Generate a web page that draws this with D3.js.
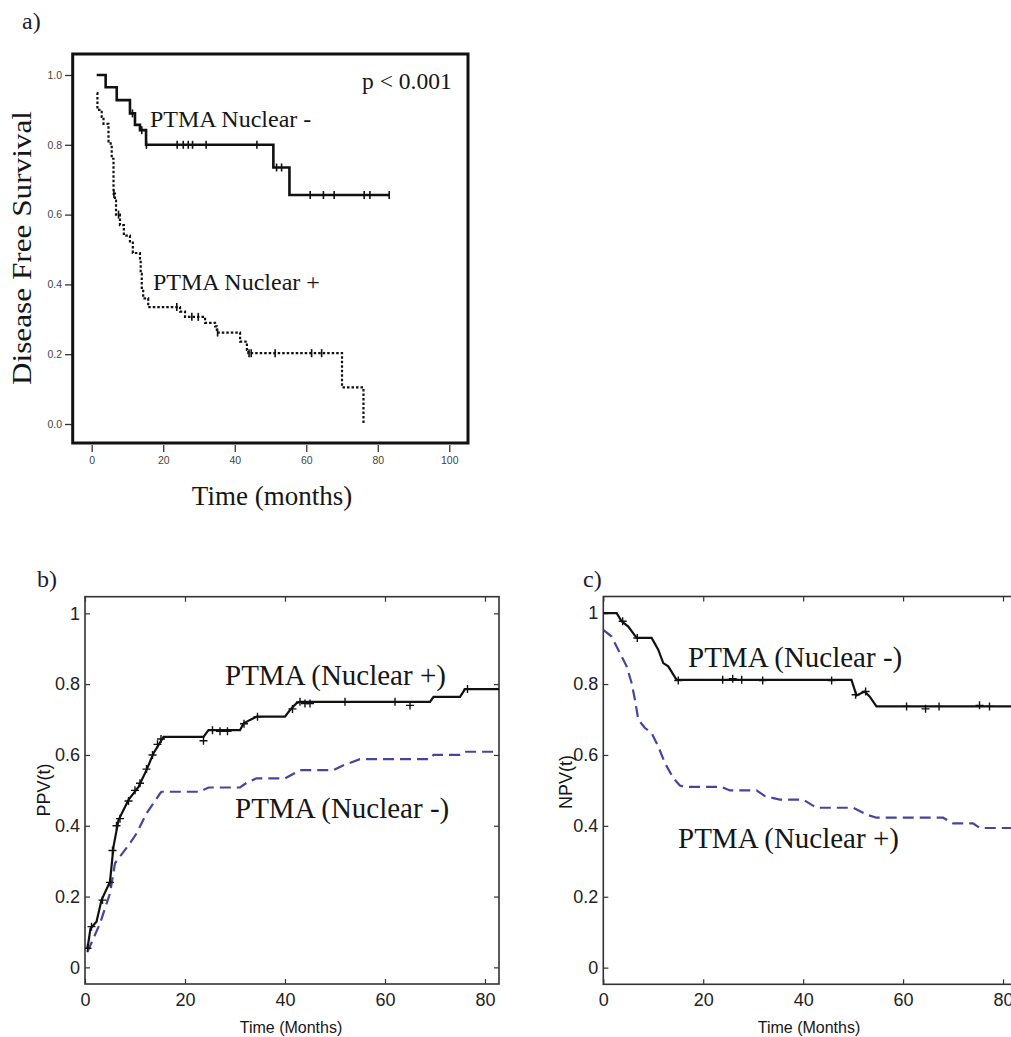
<!DOCTYPE html>
<html><head><meta charset="utf-8">
<script src="https://cdn.jsdelivr.net/npm/d3@7"></script>
<style>body{margin:0;background:#fff}</style>
</head><body>
<svg id="chart" width="1011" height="1037" xmlns="http://www.w3.org/2000/svg"></svg>
<script>
// ---------- Panel a: Kaplan-Meier, disease free survival ----------
const aXTicks = [0, 20, 40, 60, 80, 100];
const aYTicks = [0, 0.2, 0.4, 0.6, 0.8, 1.0];
// PTMA Nuclear - (solid)
const aNegTime = [1.4, 3.9, 7.0, 10.7, 12.1, 13.5, 15.2, 50.8, 55.3, 83.4];
const aNegSurv = [1.0, 0.965, 0.928, 0.890, 0.857, 0.842, 0.80, 0.735, 0.656, 0.656];
const aNegCensor = [11.4, 14.0, 15.3, 23.9, 25.6, 27.0, 28.2, 32.0, 46.2, 51.7, 53.1, 61.1, 64.8, 67.8, 76.2, 77.8, 83.2];
// PTMA Nuclear + (dotted)
const aPosTime = [1.4, 1.6, 2.8, 3.3, 4.7, 5.3, 5.6, 6.1, 6.5, 6.8, 7.9, 9.0, 10.7, 11.5, 13.5, 13.7, 14.0, 14.4, 15.8, 24.7, 26.1, 31.7, 34.5, 35.0, 41.5, 43.4, 43.8, 70.0, 76.0];
const aPosSurv = [0.948, 0.90, 0.88, 0.86, 0.81, 0.80, 0.76, 0.66, 0.64, 0.60, 0.57, 0.54, 0.52, 0.49, 0.47, 0.43, 0.39, 0.36, 0.335, 0.322, 0.307, 0.29, 0.28, 0.262, 0.236, 0.212, 0.203, 0.105, 0.0];
const aPosCensor = [6.2, 7.5, 23.8, 28.0, 29.8, 35.2, 44.0, 44.6, 51.3, 61.5, 64.3];

// ---------- Panel b: PPV(t) ----------
const bcXTicks = [0, 20, 40, 60, 80];
const bcYTicks = [0, 0.2, 0.4, 0.6, 0.8, 1];
const bPosTime = [0.5, 1.1, 2.3, 3.3, 5.0, 5.7, 6.7, 8.7, 10.7, 12.3, 13.7, 15.7, 23.7, 24.7, 31.0, 31.7, 33.0, 34.3, 40.0, 41.0, 42.3, 43.0, 69.0, 69.7, 75.0, 76.0, 83.0];
const bPosVal  = [0.054, 0.110, 0.129, 0.19, 0.242, 0.341, 0.416, 0.473, 0.510, 0.557, 0.605, 0.651, 0.651, 0.670, 0.670, 0.689, 0.699, 0.708, 0.708, 0.727, 0.746, 0.750, 0.750, 0.764, 0.764, 0.786, 0.786];
const bPosMarkT = [0.5, 1.3, 3.5, 5.0, 5.5, 6.3, 7.0, 8.7, 10.0, 11.0, 12.3, 13.5, 14.5, 15.2, 23.7, 25.5, 27.0, 28.5, 31.8, 34.5, 41.5, 43.0, 44.0, 45.0, 52.0, 62.0, 65.0, 76.5];
const bPosMarkV = [0.054, 0.115, 0.19, 0.24, 0.33, 0.40, 0.42, 0.47, 0.50, 0.52, 0.56, 0.60, 0.63, 0.645, 0.64, 0.67, 0.667, 0.667, 0.688, 0.708, 0.73, 0.75, 0.745, 0.745, 0.75, 0.75, 0.74, 0.786];
const bNegTime = [0.5, 3.0, 5.0, 6.0, 8.7, 10.3, 12.3, 15.0, 15.3, 23.0, 24.7, 31.0, 32.3, 34.3, 40.0, 43.0, 49.7, 51.7, 55.0, 69.0, 69.7, 75.0, 76.0, 83.0];
const bNegVal  = [0.044, 0.124, 0.209, 0.294, 0.345, 0.378, 0.435, 0.491, 0.496, 0.496, 0.508, 0.508, 0.521, 0.534, 0.534, 0.557, 0.557, 0.571, 0.588, 0.588, 0.600, 0.600, 0.609, 0.609];

// ---------- Panel c: NPV(t) ----------
const cNegTime = [0, 2.67, 3.67, 5.0, 6.67, 9.67, 11.0, 12.0, 13.0, 14.67, 49.67, 50.67, 52.3, 53.3, 54.67, 83.0];
const cNegVal  = [1.0, 1.0, 0.977, 0.962, 0.930, 0.930, 0.897, 0.859, 0.850, 0.812, 0.812, 0.768, 0.779, 0.765, 0.737, 0.737];
const cNegMarkT = [3.87, 6.8, 15.0, 23.9, 25.9, 27.7, 31.9, 45.7, 50.5, 52.5, 60.7, 64.5, 67.2, 75.3, 77.3];
const cNegMarkV = [0.977, 0.93, 0.81, 0.812, 0.815, 0.812, 0.81, 0.81, 0.77, 0.779, 0.737, 0.73, 0.737, 0.74, 0.737];
const cPosTime = [0, 1.67, 3.33, 4.67, 5.67, 6.33, 7.0, 8.33, 9.67, 11.0, 12.33, 14.0, 15.33, 16.33, 23.67, 25.33, 30.67, 32.33, 35.33, 40.0, 42.67, 50.0, 52.67, 54.67, 68.0, 70.0, 74.0, 75.33, 83.0];
const cPosVal  = [0.953, 0.934, 0.887, 0.850, 0.803, 0.756, 0.70, 0.676, 0.662, 0.624, 0.577, 0.535, 0.514, 0.510, 0.510, 0.50, 0.50, 0.484, 0.474, 0.474, 0.451, 0.451, 0.432, 0.423, 0.423, 0.407, 0.407, 0.394, 0.394];

const SERIF = "'Liberation Serif', 'Times New Roman', serif";
const SANS = "'Liberation Sans', Arial, Helvetica, sans-serif";
const BLUE = "#45459e";
const svg = d3.select("#chart");

function txt(x, y, s, size, opts = {}) {
  const t = svg.append("text").attr("x", x).attr("y", y).text(s)
    .attr("font-family", opts.family || SERIF).attr("font-size", size)
    .attr("fill", opts.fill || "#161616");
  if (opts.anchor) t.attr("text-anchor", opts.anchor);
  if (opts.rotate) t.attr("transform", `rotate(-90 ${x} ${y})`);
  if (opts.len) t.attr("textLength", opts.len).attr("lengthAdjust", "spacingAndGlyphs");
  return t;
}

// ===================== Panel a =====================
const xA = d3.scaleLinear().domain([0, 100]).range([91.7, 449.3]);
const yA = d3.scaleLinear().domain([0, 1]).range([424, 75]);

const gAx = svg.append("g").attr("transform", "translate(0,445)")
  .call(d3.axisBottom(xA).tickValues(aXTicks).tickSize(7).tickPadding(5).tickFormat(d3.format("d")));
const gAy = svg.append("g").attr("transform", "translate(72,0)")
  .call(d3.axisLeft(yA).tickValues(aYTicks).tickSize(7).tickPadding(3).tickFormat(d3.format(".1f")));
[gAx, gAy].forEach(g => {
  g.select(".domain").remove();
  g.selectAll("line").attr("stroke", "#333").attr("stroke-width", 1.3);
  g.selectAll("text").attr("font-family", SANS).attr("font-size", 10.5).attr("fill", "#444");
});
svg.append("rect").attr("x", 72.7).attr("y", 54).attr("width", 395.3).attr("height", 389)
  .attr("fill", "none").attr("stroke", "#111").attr("stroke-width", 3);

const stepLine = d3.line().x(d => xA(d[0])).y(d => yA(d[1])).curve(d3.curveStepAfter);
svg.append("path").datum(d3.zip(aNegTime, aNegSurv)).attr("d", stepLine)
  .attr("fill", "none").attr("stroke", "#111").attr("stroke-width", 2.6);
svg.append("path").datum(d3.zip(aPosTime, aPosSurv)).attr("d", stepLine)
  .attr("fill", "none").attr("stroke", "#111").attr("stroke-width", 2.2).attr("stroke-dasharray", "2.5,2");

function survAt(T, S, t) { const i = Math.max(0, d3.bisectRight(T, t) - 1); return S[i]; }
function censorTicks(times, T, S) {
  svg.append("g").selectAll("line").data(times).join("line")
    .attr("x1", d => xA(d)).attr("x2", d => xA(d))
    .attr("y1", d => yA(survAt(T, S, d)) - 4).attr("y2", d => yA(survAt(T, S, d)) + 4)
    .attr("stroke", "#111").attr("stroke-width", 1.6);
}
censorTicks(aNegCensor, aNegTime, aNegSurv);
censorTicks(aPosCensor, aPosTime, aPosSurv);

txt(22, 29, "a)", 24, { fill: "#1c1c30" });
txt(362, 89, "p < 0.001", 23.5);
txt(150, 127, "PTMA Nuclear -", 24);
txt(153, 290, "PTMA Nuclear +", 24);
txt(272, 505, "Time (months)", 27, { anchor: "middle" });
txt(31, 248, "Disease Free Survival", 28, { anchor: "middle", rotate: true, len: 274 });

// ===================== Panels b & c =====================
function matlabPanel(x0, x1, y0, y1, id) {
  const x = d3.scaleLinear().domain([0, 82.8]).range([x0, x1]);
  const y = d3.scaleLinear().domain([-0.047, 1.047]).range([y1, y0]);
  svg.append("clipPath").attr("id", id).append("rect")
    .attr("x", x0).attr("y", y0).attr("width", x1 - x0).attr("height", y1 - y0);
  const axes = [
    svg.append("g").attr("transform", `translate(0,${y1})`)
      .call(d3.axisBottom(x).tickValues(bcXTicks).tickSizeInner(-5).tickSizeOuter(0).tickPadding(9).tickFormat(d3.format("d"))),
    svg.append("g").attr("transform", `translate(${x0},0)`)
      .call(d3.axisLeft(y).tickValues(bcYTicks).tickSizeInner(-5).tickSizeOuter(0).tickPadding(5).tickFormat(d => d === 0 || d === 1 ? d3.format("d")(d) : d3.format(".1f")(d))),
    svg.append("g").attr("transform", `translate(0,${y0})`)
      .call(d3.axisTop(x).tickValues(bcXTicks).tickSizeInner(-5).tickSizeOuter(0).tickFormat("")),
    svg.append("g").attr("transform", `translate(${x1},0)`)
      .call(d3.axisRight(y).tickValues(bcYTicks).tickSizeInner(-5).tickSizeOuter(0).tickFormat(""))
  ];
  axes.forEach(g => {
    g.select(".domain").remove();
    g.selectAll("line").attr("stroke", "#333").attr("stroke-width", 1.2);
    g.selectAll("text").attr("font-family", SANS).attr("font-size", 18).attr("fill", "#222");
  });
  svg.append("rect").attr("x", x0).attr("y", y0).attr("width", x1 - x0).attr("height", y1 - y0)
    .attr("fill", "none").attr("stroke", "#333").attr("stroke-width", 1.6);
  const plot = svg.append("g").attr("clip-path", `url(#${id})`);
  return { x, y, plot };
}

function drawLine(p, T, V, color, dash, w) {
  const ln = d3.line().x(d => p.x(d[0])).y(d => p.y(d[1]));
  const path = p.plot.append("path").datum(d3.zip(T, V)).attr("d", ln)
    .attr("fill", "none").attr("stroke", color).attr("stroke-width", w);
  if (dash) path.attr("stroke-dasharray", dash);
}
function drawPlus(p, T, V) {
  p.plot.append("g").selectAll("path").data(d3.zip(T, V)).join("path")
    .attr("d", d => { const cx = p.x(d[0]), cy = p.y(d[1]); return `M${cx - 4},${cy}H${cx + 4}M${cx},${cy - 4}V${cy + 4}`; })
    .attr("stroke", "#111").attr("stroke-width", 1.4).attr("fill", "none");
}

// Panel b
const pb = matlabPanel(85, 499, 596.7, 984, "clipB");
drawLine(pb, bNegTime, bNegVal, BLUE, "11,6", 2.2);
drawLine(pb, bPosTime, bPosVal, "#111", null, 2.2);
drawPlus(pb, bPosMarkT, bPosMarkV);
txt(37, 587, "b)", 24, { fill: "#1c1c30" });
txt(225, 685, "PTMA (Nuclear +)", 29);
txt(235, 818, "PTMA (Nuclear -)", 29);
txt(50, 790, "PPV(t)", 18, { family: SANS, anchor: "middle", rotate: true });
txt(291, 1033, "Time (Months)", 16, { family: SANS, anchor: "middle" });

// Panel c
const pc = matlabPanel(603.3, 1017, 596.5, 984.3, "clipC");
drawLine(pc, cPosTime, cPosVal, BLUE, "11,6", 2.2);
drawLine(pc, cNegTime, cNegVal, "#111", null, 2.2);
drawPlus(pc, cNegMarkT, cNegMarkV);
txt(583, 587, "c)", 24, { fill: "#1c1c30" });
txt(688, 667, "PTMA (Nuclear -)", 29);
txt(678, 848, "PTMA (Nuclear +)", 29);
txt(572, 782, "NPV(t)", 18, { family: SANS, anchor: "middle", rotate: true });
txt(809, 1033, "Time (Months)", 16, { family: SANS, anchor: "middle" });
</script>
</body></html>
